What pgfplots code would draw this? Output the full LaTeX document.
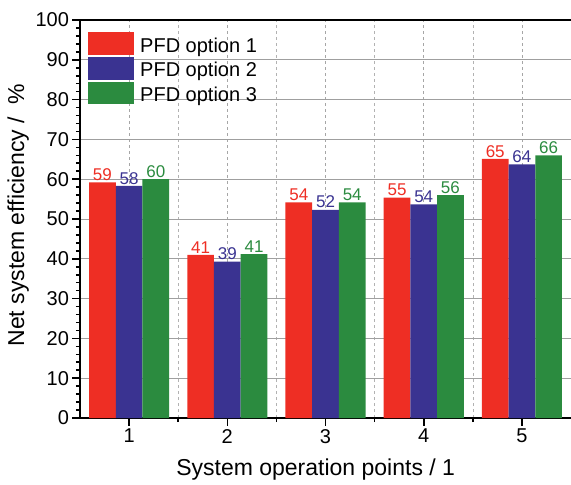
\documentclass[border=0pt]{standalone}
\usepackage{pgfplots}
\pgfplotsset{compat=1.18}
\usepackage{fontspec}
\setmainfont{Liberation Sans}
\definecolor{cred}{HTML}{EE2E24}
\definecolor{cblue}{HTML}{3A3391}
\definecolor{cgreen}{HTML}{2B8B3F}
\begin{document}
\begin{tikzpicture}
\begin{axis}[
    scale only axis,
    width=491pt, height=398pt,
    xmin=0.5, xmax=5.5, ymin=0, ymax=100,
    ybar=0pt, bar width=26.7pt,
    xtick={1,2,3,4,5}, minor xtick={1.5,2.5,3.5,4.5},
    ytick={0,10,...,100}, minor y tick num=4,
    tick align=outside, tick pos=left,
    major tick length=7.5pt, minor tick length=4pt,
    every tick/.style={black, line width=1.6pt},
    axis x line*=box, axis y line*=left,
    axis line style={line width=2.2pt},
    ymajorgrids, xmajorgrids, xminorgrids,
    y grid style={gray!75, line width=0.6pt},
    x grid style={gray!70, dashed, line width=0.6pt},
    minor x grid style={gray!60, dashed, line width=0.6pt},
    /pgf/number format/assume math mode=true,
    tick label style={font=\fontsize{20}{24}\selectfont},
    label style={font=\fontsize{23}{28}\selectfont},
    xlabel={System operation points / 1},
    ylabel={Net system efficiency /\ \ \%},
    xlabel style={at={(axis description cs:0.48,-0.13)}, anchor=center},
    ylabel style={at={(axis description cs:-0.126,0.51)}, anchor=center},
    nodes near coords={\pgfmathprintnumber[fixed,precision=0]{\pgfplotspointmeta}},
    nodes near coords style={font=\fontsize{17}{20}\selectfont, inner sep=1.5pt},
    legend style={at={(axis description cs:0.0163,0.970)}, anchor=north west,
        draw=none, fill=none, inner sep=0pt, row sep=-5.8pt,
        font=\fontsize{20}{24}\selectfont,
        nodes={inner sep=0pt, text height=18.2pt, text depth=6.5pt},
        /tikz/every odd column/.append style={column sep=6pt}},
    legend cell align=left,
    legend image code/.code={\fill[#1] (0pt,-4.5pt) rectangle (46pt,18.2pt);},
]
\addplot[fill=cred, draw=none, every node near coord/.append style={text=cred}]
    coordinates {(1,59.2) (2,41.0) (3,54.2) (4,55.4) (5,65.1)};
\addplot[fill=cblue, draw=none, every node near coord/.append style={text=cblue}]
    coordinates {(1,58.3) (2,39.3) (3,52.3) (4,53.7) (5,63.7)};
\addplot[fill=cgreen, draw=none, every node near coord/.append style={text=cgreen}]
    coordinates {(1,60.0) (2,41.2) (3,54.2) (4,56.0) (5,66.0)};
\legend{\raisebox{4pt}{PFD option 1}, \raisebox{4pt}{PFD option 2}, \raisebox{4pt}{PFD option 3}}
\end{axis}
\pgfresetboundingbox
\path[use as bounding box] ([shift={(-80pt,-66pt)}]current axis.south west)
    rectangle ([yshift=20pt]current axis.north east);
\end{tikzpicture}
\end{document}
